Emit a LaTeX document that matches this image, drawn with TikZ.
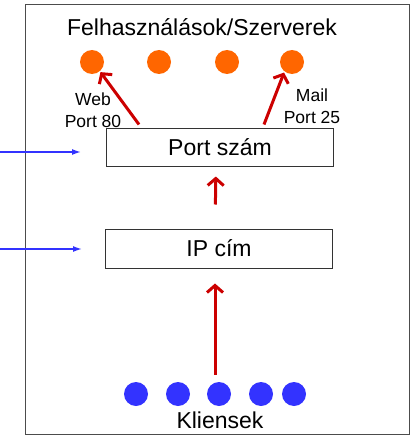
\documentclass[tikz,border=0pt]{standalone}
\usepackage{fontspec}
\setmainfont{Liberation Sans}
\usetikzlibrary{arrows.meta,calc}
\definecolor{szervszin}{HTML}{FF6600}
\definecolor{kliensszin}{HTML}{3333FF}
\definecolor{nyilszin}{HTML}{CC0000}
\begin{document}
\begin{tikzpicture}
	[x=1pt,y=-1pt,
	szint/.style={draw=black!80,line width=1pt,minimum width=227pt,minimum height=38pt,inner sep=0pt,font=\fontsize{23}{26}\selectfont},
	felirat/.style={inner sep=0pt,font=\fontsize{23}{26}\selectfont},
	port/.style={inner sep=0pt,align=center,font=\fontsize{17.5}{21.5}\selectfont},
	szerver/.style={fill=szervszin,circle,minimum size=24pt,inner sep=0pt},
	kliens/.style={fill=kliensszin,circle,minimum size=24pt,inner sep=0pt},
	fel/.style={draw=nyilszin,line width=3pt,-{Straight Barb[length=7pt,width=16pt]}},
	be/.style={draw=kliensszin,line width=1.5pt,-{Latex[length=9pt,width=6pt]}}
	]
	\useasboundingbox (0,0) rectangle (412,436);
	\draw[black!70,line width=1pt] (25,5) rectangle (409.5,434.5);
	% felso sor
	\node[felirat,anchor=base] (cim) at (202,36) {Felhasználások/Szerverek};
	\foreach \n/\x in {1/92,2/159,3/227,4/292}
		\node[szerver] (sz\n) at (\x,62) {};
	\node[port] (web) at (93,110) {Web\\Port 80};
	\node[port] (mail) at (312,106) {Mail\\Port 25};
	% retegek
	\node[szint] (port) at (220,147) {Port szám};
	\node[szint,minimum height=39pt] (ip) at (219,248.5) {IP cím};
	% also sor
	\foreach \n/\x in {1/136,2/178,3/219,4/261,5/294}
		\node[kliens] (k\n) at (\x,394) {};
	\node[felirat,anchor=base] (kliensek) at (220,428) {Kliensek};
	% nyilak
	\draw[fel] ($(port.north west)+(33,-3)$) -- ([shift={(-50:1pt)}]sz1.-50);
	\draw[fel] ($(port.north east)+(-70,-3)$) -- ([shift={(233:1pt)}]sz4.233);
	\draw[fel,shorten <=24pt,shorten >=10pt] ([xshift=-4pt]ip.north) -- ([xshift=-4pt]port.south);
	\draw[fel,shorten <=7pt,shorten >=15pt] ([xshift=-4pt]k3.north) -- ([xshift=-4pt]ip.south);
	\coordinate (bal1) at (0,152);
	\coordinate (bal2) at (0,249);
	\draw[be,shorten >=25pt] (bal1) -- (bal1 -| port.west);
	\draw[be,shorten >=23pt] (bal2) -- (bal2 -| ip.west);
\end{tikzpicture}
\end{document}
